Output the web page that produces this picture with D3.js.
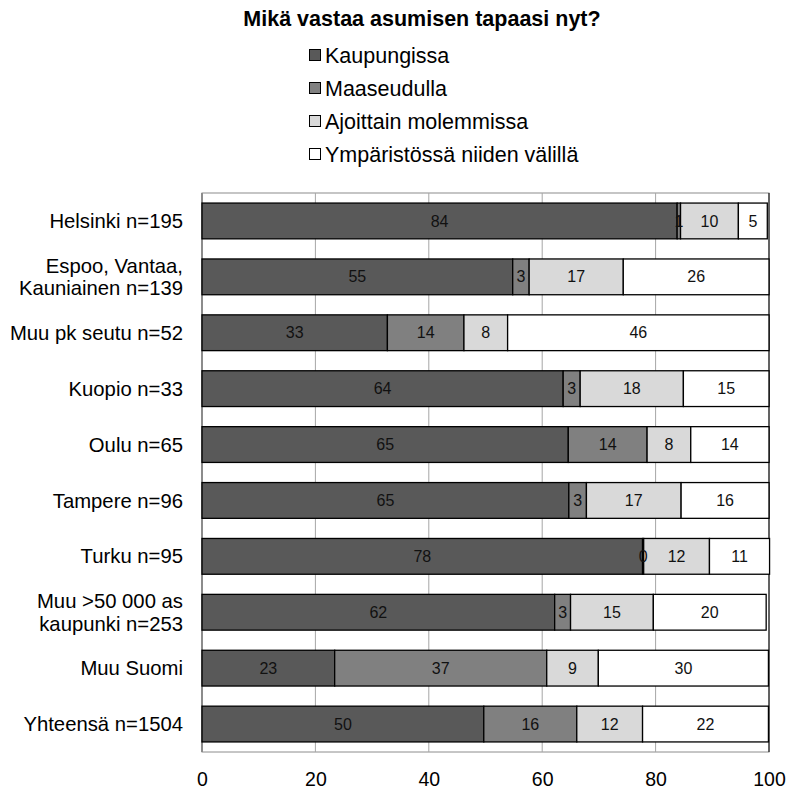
<!DOCTYPE html>
<html>
<head>
<meta charset="utf-8">
<script src="https://cdn.jsdelivr.net/npm/d3@7"></script>
<style>
  body { margin: 0; background: #fff; }
  text { font-family: "Liberation Sans", Arial, sans-serif; }
</style>
</head>
<body>
<script>
/* data */
var title = "Mikä vastaa asumisen tapaasi nyt?";
var categories = [
  ["Helsinki n=195"],
  ["Espoo, Vantaa,", "Kauniainen n=139"],
  ["Muu pk seutu n=52"],
  ["Kuopio n=33"],
  ["Oulu n=65"],
  ["Tampere n=96"],
  ["Turku n=95"],
  ["Muu >50 000 as", "kaupunki n=253"],
  ["Muu Suomi"],
  ["Yhteensä n=1504"]
];
var seriesNames = ["Kaupungissa", "Maaseudulla", "Ajoittain molemmissa", "Ympäristössä niiden välillä"];
var kaupungissa = [83.8, 54.8, 32.7, 63.7, 64.6, 64.7, 77.7, 62.2, 23.4, 49.7];
var maaseudulla = [0.6, 2.9, 13.5, 3.0, 13.9, 3.1, 0.2, 2.8, 37.4, 16.4];
var ajoittain = [10.2, 16.6, 7.7, 18.2, 7.7, 16.7, 11.6, 14.6, 9.1, 11.6];
var ymparistossa = [5.1, 25.7, 46.1, 15.1, 13.8, 15.5, 10.6, 19.9, 30.0, 22.2];
var xTicks = [0, 20, 40, 60, 80, 100];
var colors = ["#595959", "#808080", "#d9d9d9", "#ffffff"];

var series = [kaupungissa, maaseudulla, ajoittain, ymparistossa];

var svg = d3.select("body").append("svg")
  .attr("width", 791)
  .attr("height", 791);

/* scales */
var x = d3.scaleLinear().domain([0, 100]).range([202, 769]);
var y = d3.scaleBand().domain(d3.range(categories.length)).range([193, 752]).paddingInner(0.36).paddingOuter(0.18);

/* title */
svg.append("text")
  .attr("x", 422).attr("y", 26)
  .attr("text-anchor", "middle")
  .style("font-size", "21.5px")
  .style("font-weight", "bold")
  .text(title);

/* legend */
var legend = svg.append("g");
seriesNames.forEach(function (name, i) {
  var ly = 55 + i * 33;
  legend.append("rect")
    .attr("x", 309.5).attr("y", ly - 5.5)
    .attr("width", 11).attr("height", 11)
    .attr("fill", colors[i]).attr("stroke", "#000");
  legend.append("text")
    .attr("x", 325).attr("y", ly)
    .attr("dy", "0.35em")
    .style("font-size", "21.5px")
    .text(name);
});

/* plot frame + grid */
svg.append("rect")
  .attr("x", x(0)).attr("y", 193)
  .attr("width", x(100) - x(0)).attr("height", 752 - 193)
  .attr("fill", "none").attr("stroke", "#8c8c8c");

svg.selectAll(".grid").data([20, 40, 60, 80]).enter()
  .append("line")
  .attr("x1", function (d) { return x(d); })
  .attr("x2", function (d) { return x(d); })
  .attr("y1", 193).attr("y2", 752)
  .attr("stroke", "#a6a6a6");

svg.append("line")
  .attr("x1", x(0)).attr("x2", x(0)).attr("y1", 193).attr("y2", 752)
  .attr("stroke", "#8c8c8c").attr("stroke-width", 2);
svg.append("line")
  .attr("x1", x(100)).attr("x2", x(100)).attr("y1", 193).attr("y2", 752)
  .attr("stroke", "#000");

/* bars */
for (var c = 0; c < categories.length; c++) {
  var start = 0;
  for (var s = 0; s < series.length; s++) {
    var v = series[s][c];
    svg.append("rect")
      .attr("x", x(start))
      .attr("y", y(c))
      .attr("width", x(start + v) - x(start))
      .attr("height", y.bandwidth())
      .attr("fill", colors[s])
      .attr("stroke", "#000")
      .attr("stroke-width", 1.3);
    start += v;
  }
}

/* value labels */
for (var c = 0; c < categories.length; c++) {
  var start = 0;
  for (var s = 0; s < series.length; s++) {
    var v = series[s][c];
    svg.append("text")
      .attr("x", x(start + v / 2))
      .attr("y", y(c) + y.bandwidth() / 2)
      .attr("dy", "0.35em")
      .attr("text-anchor", "middle")
      .style("font-size", "16px")
      .style("fill", "#111")
      .text(Math.round(v));
    start += v;
  }
}

/* category labels */
categories.forEach(function (lines, i) {
  var t = svg.append("text")
    .attr("x", 183)
    .attr("y", y(i) + y.bandwidth() / 2)
    .attr("text-anchor", "end")
    .style("font-size", "20.3px");
  lines.forEach(function (ln, j) {
    t.append("tspan")
      .attr("x", 183)
      .attr("dy", j === 0 ? (0.35 - (lines.length - 1) * 0.55) + "em" : "1.1em")
      .text(ln);
  });
});

/* x axis labels */
var xAxis = d3.axisBottom(x).tickValues(xTicks).tickSize(0).tickPadding(20);
var xg = svg.append("g").attr("transform", "translate(0,752)").call(xAxis);
xg.select(".domain").remove();
xg.selectAll("text")
  .style("font-size", "19.5px")
  .style("font-family", "'Liberation Sans', Arial, sans-serif")
  .attr("fill", "#000");
</script>
</body>
</html>
